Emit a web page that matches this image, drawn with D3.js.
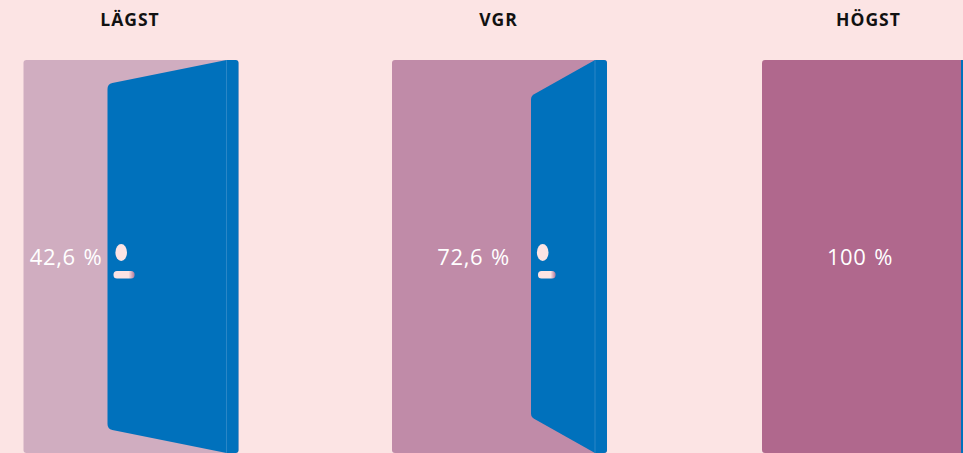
<!DOCTYPE html>
<html>
<head>
<meta charset="utf-8">
<script src="https://cdn.jsdelivr.net/npm/d3@7"></script>
<style>
  html, body { margin: 0; padding: 0; background: #fce4e4; overflow: hidden; }
  svg { display: block; font-family: "Open Sans", "Noto Sans", sans-serif; }
</style>
</head>
<body>
<div class="graph"></div>
<script>
const categories = ["LÄGST", "VGR", "HÖGST"];
const values = [42.6, 72.6, 100];
const valueLabels = ["42,6 %", "72,6 %", "100 %"];
const frameColors = ["#d0adc0", "#c08ba8", "#b0688d"];

const width = 963, height = 453;
const frameW = 215, hingeW = 203, topY = 60, botY = 453;
const blue = "#0071bc";

const svg = d3.select(".graph").append("svg")
  .attr("width", width)
  .attr("height", height);

const defs = svg.append("defs");
const grad = defs.append("linearGradient").attr("id", "handle");
grad.append("stop").attr("offset", "0.72").attr("stop-color", "#fce4e4");
grad.append("stop").attr("offset", "0.95").attr("stop-color", "#c08ba8");

const x = d3.scaleOrdinal().domain(categories).range([23.5, 392, 762]);
// how far the free edge of the door sits from the hinge
const doorW = d3.scaleLinear().domain([42.6, 72.6, 100]).range([119, 64, 4]);
// perspective: how far the free edge drops from the frame top
const inset = d3.scaleLinear().domain([42.6, 72.6]).range([24, 36]);
const labelX = d3.scaleLinear().domain([42.6, 72.6, 100]).range([42.5, 81.5, 98]);
const handleW = d3.scaleLinear().domain([42.6, 72.6]).range([21, 17.5]);
const handleDx = d3.scaleLinear().domain([42.6, 72.6]).range([6, 7]);
const knobDx = d3.scaleLinear().domain([42.6, 72.6]).range([13.7, 11.7]);

// door leaf with small rounded corners on the free edge
function leaf(w, ins){
  const p = d3.path();
  const l = hingeW - w, r = hingeW;
  p.moveTo(r, topY);
  p.lineTo(r, botY);
  p.arcTo(l, botY - ins, l, topY, 6);
  p.arcTo(l, topY + ins, r, topY, 6);
  p.closePath();
  return p.toString();
}

// strip right of the hinge, square on the left and rounded on the right
function strip(){
  const p = d3.path();
  p.moveTo(hingeW, topY);
  p.arcTo(frameW, topY, frameW, botY, 3);
  p.arcTo(frameW, botY, hingeW, botY, 3);
  p.lineTo(hingeW, botY);
  p.closePath();
  return p.toString();
}

const rows = categories.map((c, i)=>{
  return {name: c, value: values[i], label: valueLabels[i], color: frameColors[i]};
});

const groups = svg.selectAll("g.door")
    .data(rows)
  .enter().append("g")
    .attr("class", "door")
    .attr("transform", (d)=>{ return "translate(" + x(d.name) + ",0)"; });

groups.append("text")
  .attr("x", frameW / 2 - 1)
  .attr("y", 26)
  .attr("text-anchor", "middle")
  .attr("font-size", 17.5)
  .attr("font-weight", 700)
  .attr("letter-spacing", 1)
  .attr("fill", "#111")
  .text((d)=>{ return d.name; });

groups.append("rect")
  .attr("y", topY)
  .attr("width", frameW)
  .attr("height", botY - topY)
  .attr("rx", 3)
  .attr("fill", (d)=>{ return d.color; });

groups.filter((d)=>{ return d.value < 100; }).each(function(d){
  const g = d3.select(this);
  const w = doorW(d.value);
  const l = hingeW - w;
  g.append("path").attr("d", leaf(w, inset(d.value))).attr("fill", blue);
  g.append("path").attr("d", strip()).attr("fill", blue);
  g.append("line")
    .attr("x1", hingeW).attr("x2", hingeW)
    .attr("y1", topY).attr("y2", botY)
    .attr("stroke", "#2a86c6")
    .attr("stroke-width", 1);
  g.append("ellipse")
    .attr("cx", l + knobDx(d.value))
    .attr("cy", 252.5)
    .attr("rx", 5.8)
    .attr("ry", 8.5)
    .attr("fill", "#fce4e4");
  g.append("rect")
    .attr("x", l + handleDx(d.value))
    .attr("y", 271)
    .attr("width", handleW(d.value))
    .attr("height", 7.5)
    .attr("rx", 3.5)
    .attr("fill", "url(#handle)");
});

// fully open door: only a sliver of it shows
groups.filter((d)=>{ return d.value === 100; }).append("rect")
  .attr("x", (d)=>{ return hingeW - doorW(d.value); })
  .attr("y", topY)
  .attr("width", 20)
  .attr("height", botY - topY)
  .attr("fill", blue);

groups.append("text")
  .attr("x", (d)=>{ return labelX(d.value); })
  .attr("y", 265)
  .attr("text-anchor", "middle")
  .attr("font-size", 22)
  .attr("letter-spacing", 0.6)
  .attr("word-spacing", 1.5)
  .attr("fill", "#fff")
  .text((d)=>{ return d.label; });
</script>
</body>
</html>
